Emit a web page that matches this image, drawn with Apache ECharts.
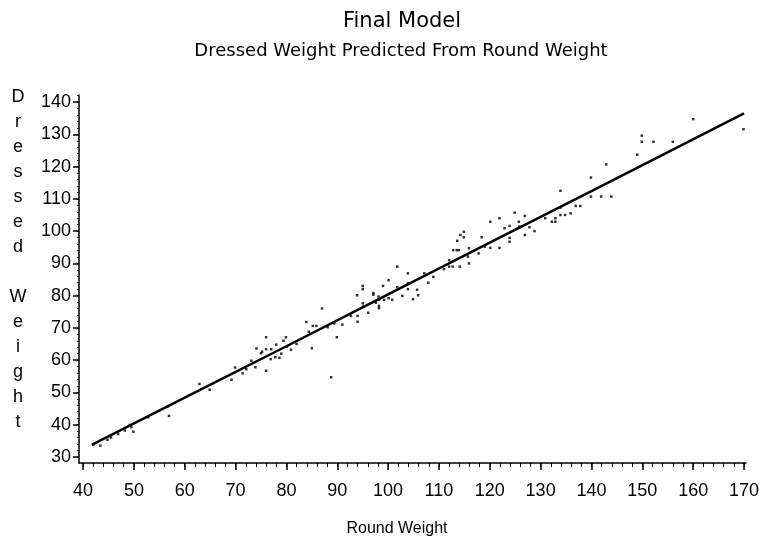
<!DOCTYPE html>
<html>
<head>
<meta charset="utf-8">
<script src="https://cdn.jsdelivr.net/npm/echarts@6/dist/echarts.min.js"></script>
<style>html,body{margin:0;padding:0;background:#fff}#c{width:762px;height:547px}</style>
</head>
<body>
<div id="c"></div>
<script>
const titleText = 'Final Model';
const subtitleText = 'Dressed Weight Predicted From Round Weight';
const xTitle = 'Round Weight';
const yTitle = 'Dressed Weight';
const xTicks = [40, 50, 60, 70, 80, 90, 100, 110, 120, 130, 140, 150, 160, 170];
const yTicks = [30, 40, 50, 60, 70, 80, 90, 100, 110, 120, 130, 140];
const xMinorTicks = [40,42,44,46,48,50,52,54,56,58,60,62,64,66,68,70,72,74,76,78,80,82,84,86,88,90,92,94,96,98,100,102,104,106,108,110,112,114,116,118,120,122,124,126,128,130,132,134,136,138,140,142,144,146,148,150,152,154,156,158,160,162,164,166,168,170];
const yMinorTicks = [30,32,34,36,38,40,42,44,46,48,50,52,54,56,58,60,62,64,66,68,70,72,74,76,78,80,82,84,86,88,90,92,94,96,98,100,102,104,106,108,110,112,114,116,118,120,122,124,126,128,130,132,134,136,138,140,142];

// observed (round weight, dressed weight)
const observed = [
  [42.0,33.7],[43.4,33.5],[44.8,35.3],[45.5,36.0],[46.9,37.1],[48.2,38.2],[49.2,39.9],[49.5,39.2],[49.9,37.8],
  [52.8,42.3],[56.6,45.6],[56.9,42.7],[62.9,52.6],[64.9,50.8],
  [69.2,53.9],[69.9,57.7],[71.4,55.9],[72.1,57.2],[73.1,59.8],[73.9,57.8],[74.1,63.6],[75.0,62.1],[75.2,62.6],
  [76.0,67.1],[76.0,63.4],[76.0,56.7],[76.9,60.3],[77.0,63.4],[77.8,60.9],[78.0,64.8],[78.6,60.7],[79.0,62.0],
  [79.4,66.0],[79.9,67.1],[80.1,64.2],[80.9,63.2],[82.0,65.0],[83.9,71.8],[84.4,68.8],[85.0,63.7],[85.2,70.6],
  [85.9,70.6],[87.0,76.0],[88.1,70.2],
  [88.8,54.7],[89.4,71.4],[89.9,67.1],[91.0,71.0],[92.7,73.7],[93.9,80.1],[94.0,73.7],[94.0,71.9],[95.0,83.0],
  [95.0,82.0],[95.0,77.6],[95.1,76.6],[96.1,74.7],[97.1,80.8],[97.1,80.3],[97.6,77.8],[98.1,79.7],[98.2,78.7],
  [98.2,76.8],[98.2,76.1],[99.0,83.0],[99.2,78.7],[100.1,84.8],[100.1,79.2],[100.8,78.7],[101.8,89.0],[101.8,82.6],
  [102.8,79.9],[103.9,86.9],[103.9,83.8],[103.9,82.0],[104.9,78.9],[105.7,81.8],[105.9,80.1],[107.1,86.9],
  [107.9,84.0],[108.9,85.8],[111.0,88.2],[112.0,91.0],[112.0,89.0],[112.7,89.0],[112.8,94.1],[113.5,94.1],
  [113.9,94.1],[113.6,97.0],[114.2,98.8],[114.9,99.8],[114.1,89.0],[114.9,98.1],[115.7,92.1],[115.9,90.0],
  [115.9,94.7],[117.8,93.1],
  [118.4,98.1],[119.0,95.2],[120.1,94.8],[121.9,94.8],[120.1,102.9],[121.9,104.0],[122.9,100.9],[123.9,101.6],
  [123.9,97.9],[123.9,96.7],[124.9,105.7],[125.7,102.9],[125.8,101.4],[126.9,104.7],[126.9,98.8],[127.8,101.2],
  [128.8,100.0],[130.9,104.0],[132.2,102.9],[132.9,102.9],[132.9,104.0],[133.9,112.5],[133.9,107.3],[133.9,105.0],
  [134.8,105.0],[135.9,105.5],[136.9,107.8],[137.8,107.8],[139.9,116.6],[139.9,110.7],[141.9,110.7],[142.9,120.7],
  [143.9,110.7],[149.0,123.7],[149.9,129.6],[149.9,127.7],[152.2,127.7],[156.0,127.7],[160.0,134.7],[169.9,131.6]
];
// fitted line
const fitted = [[41.7,33.7],[60,48.4],[80,64.3],[100,80.4],[120,96.4],[140,112.4],[170,136.5]];

const fontFam = '"Liberation Sans", Arial, sans-serif';
const titleFam = '"DejaVu Sans", "Liberation Sans", sans-serif';
const chart = echarts.init(document.getElementById('c'), null, {renderer: 'canvas'});
chart.setOption({
  animation: false,
  backgroundColor: '#fff',
  title: [
    {text: titleText, left: 397, top: 6, textAlign: 'center',
     textStyle: {fontFamily: titleFam, fontSize: 21, fontWeight: 'normal', color: '#000'}},
    {text: subtitleText, left: 396, top: 37, textAlign: 'center',
     textStyle: {fontFamily: titleFam, fontSize: 18, fontWeight: 'normal', color: '#000'}},
    {text: yTitle.split('').join('\n'), left: 13, top: 80, textAlign: 'center',
     textStyle: {fontFamily: fontFam, fontSize: 18, fontWeight: 'normal', color: '#000', lineHeight: 25}}
  ],
  grid: {left: 79, right: 14, top: 95, bottom: 84, containLabel: false},
  xAxis: [
    {type: 'value', min: 39.2, max: 170.4,
     name: xTitle, nameLocation: 'middle', nameGap: 58,
     nameTextStyle: {fontFamily: fontFam, fontSize: 16, color: '#000', padding: [0, 31, 0, 0]},
     axisLine: {show: true, onZero: false, lineStyle: {color: '#000', width: 1.5}},
     axisTick: {show: true, length: 7, customValues: xTicks, lineStyle: {color: '#000', width: 1.5}},
     axisLabel: {show: true, customValues: xTicks, margin: 19, fontFamily: fontFam, fontSize: 18, color: '#000'},
     splitLine: {show: false}},
    {type: 'value', min: 39.2, max: 170.4, position: 'bottom',
     axisLine: {show: false, onZero: false},
     axisTick: {show: true, length: 4, customValues: xMinorTicks, lineStyle: {color: '#000', width: 1}},
     axisLabel: {show: false}, splitLine: {show: false}}
  ],
  yAxis: [
    {type: 'value', min: 28.1, max: 142.2,
     axisLine: {show: true, onZero: false, lineStyle: {color: '#000', width: 1.5}},
     axisTick: {show: true, length: 6, customValues: yTicks, lineStyle: {color: '#000', width: 1.5}},
     axisLabel: {show: true, customValues: yTicks, margin: 8, fontFamily: fontFam, fontSize: 18, color: '#000'},
     splitLine: {show: false}},
    {type: 'value', min: 28.1, max: 142.2, position: 'left',
     axisLine: {show: false, onZero: false},
     axisTick: {show: true, length: 2, customValues: yMinorTicks, lineStyle: {color: '#000', width: 1}},
     axisLabel: {show: false}, splitLine: {show: false}}
  ],
  series: [
    {type: 'scatter', data: observed, symbol: 'rect', symbolSize: 2.5,
     itemStyle: {color: '#000'}, xAxisIndex: 0, yAxisIndex: 0},
    {type: 'line', data: fitted, showSymbol: false, symbol: 'none',
     lineStyle: {color: '#000', width: 2.5}, xAxisIndex: 0, yAxisIndex: 0}
  ]
});
</script>
</body>
</html>
